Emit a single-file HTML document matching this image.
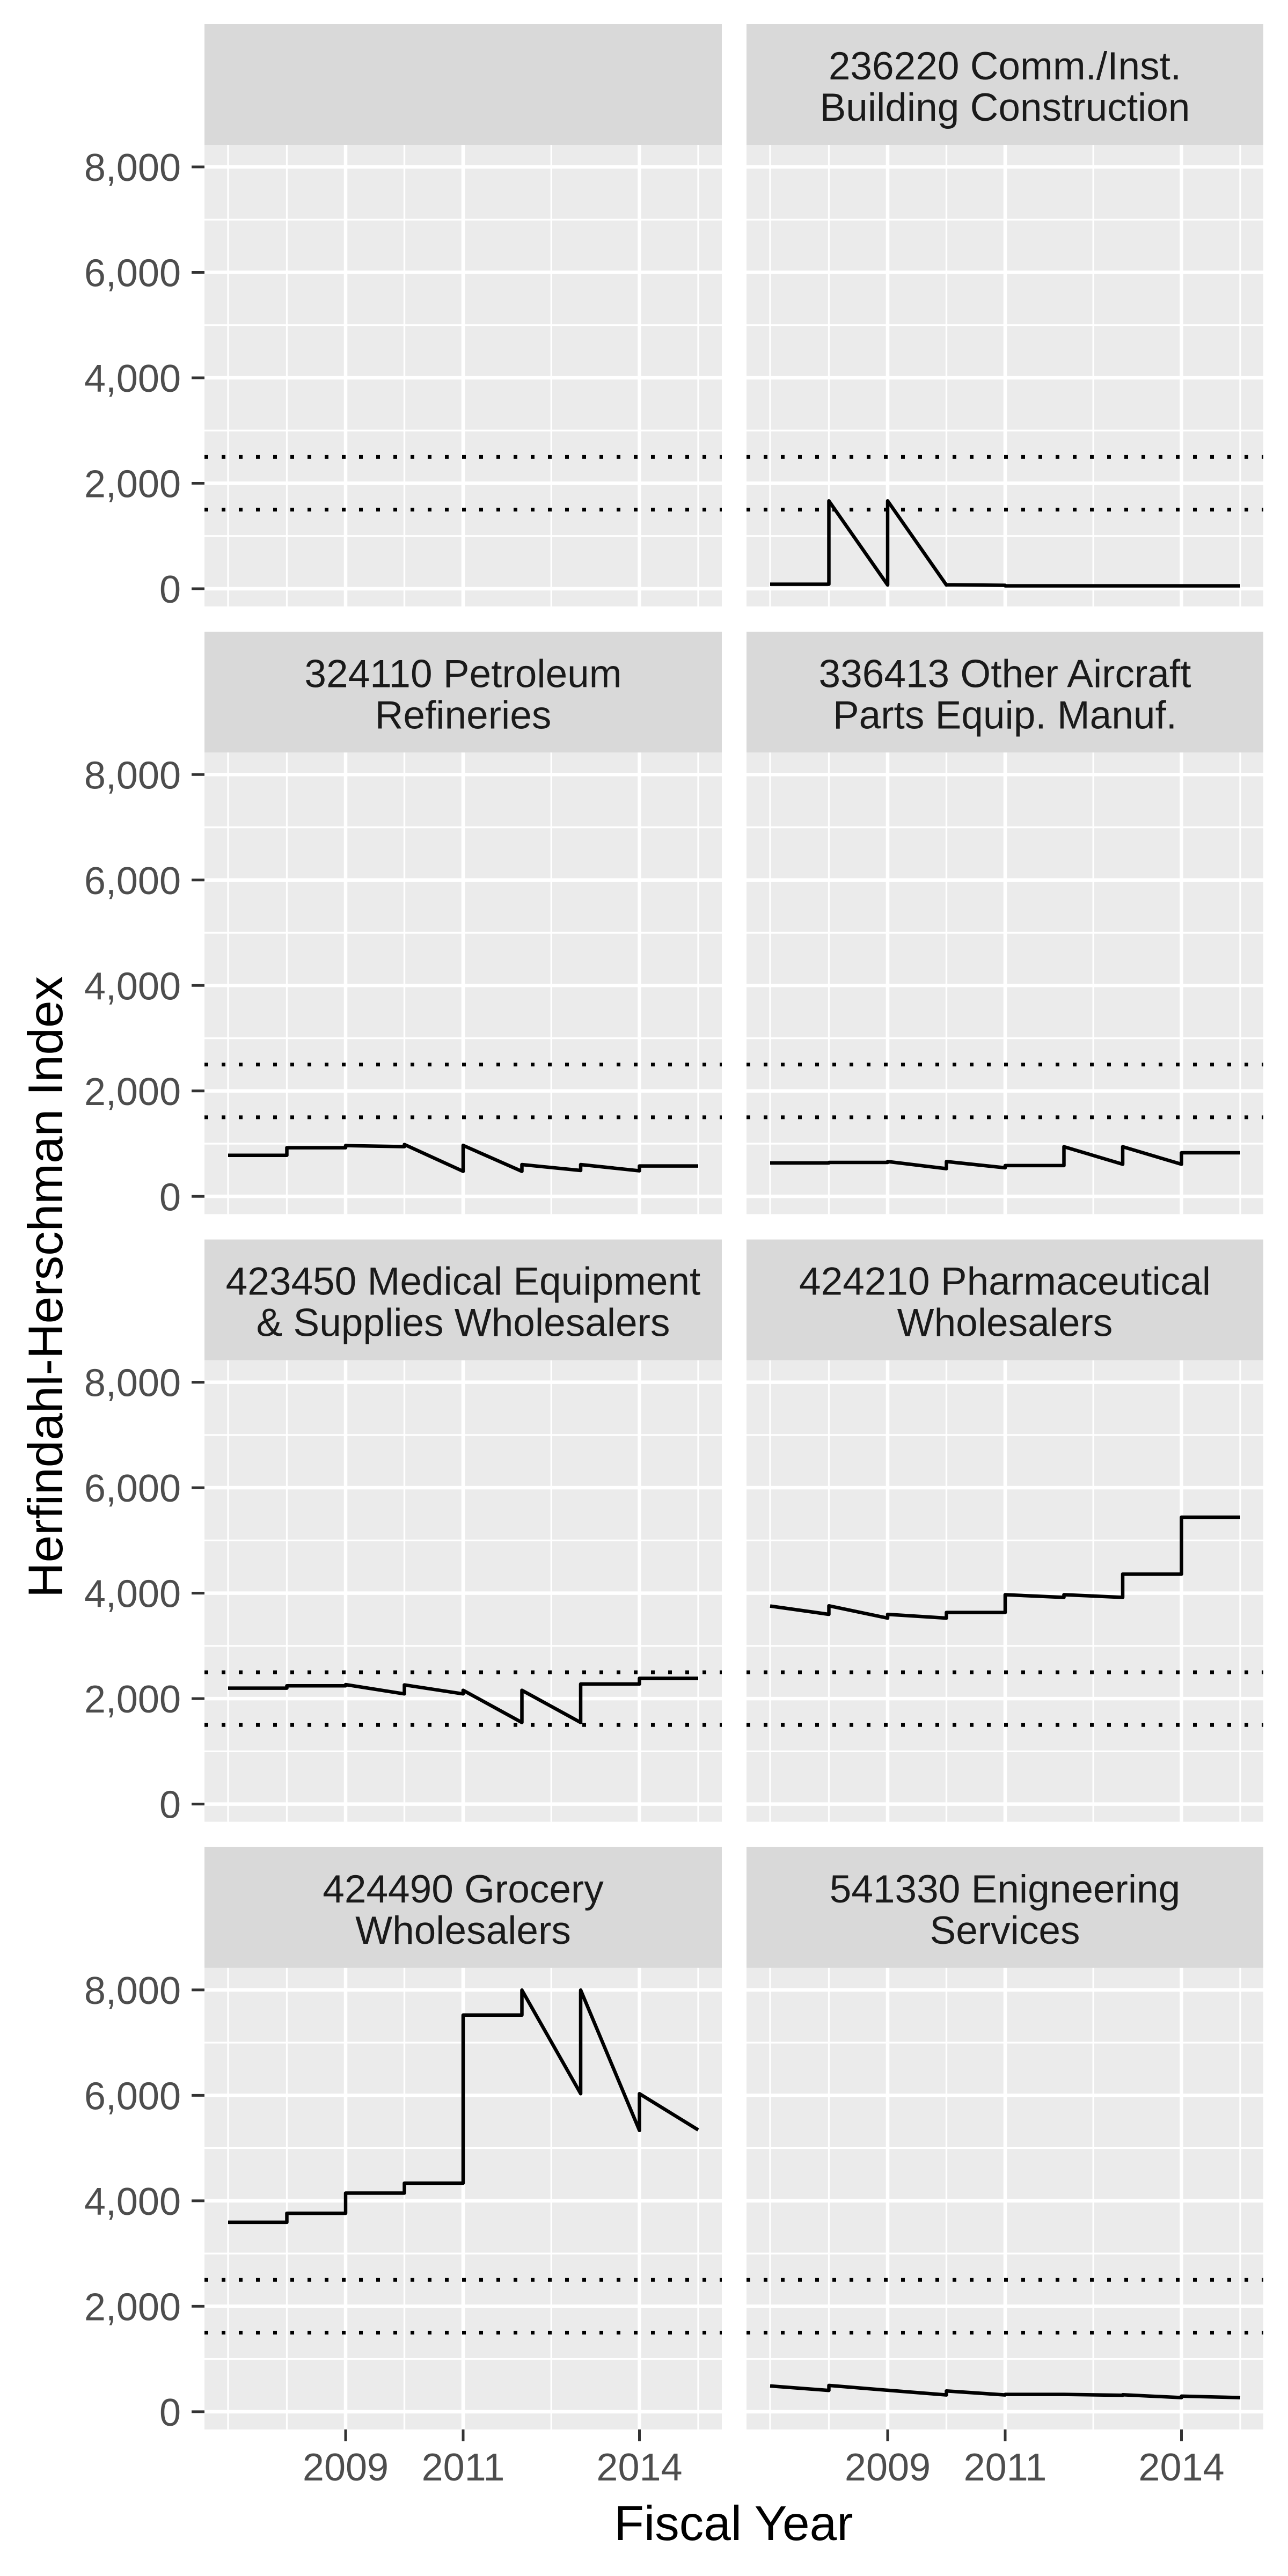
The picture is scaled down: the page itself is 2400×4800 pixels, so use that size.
<!DOCTYPE html>
<html><head><meta charset="utf-8">
<style>
html,body{margin:0;padding:0;background:#fff;}
svg{display:block;font-family:"Liberation Sans",Arial,sans-serif;}
</style></head>
<body>
<svg id="chart" width="2400" height="4800" viewBox="0 0 2400 4800" xmlns="http://www.w3.org/2000/svg">
<rect x="0" y="0" width="2400" height="4800" fill="#ffffff"/>
<g id="panels"></g>
<text x="1367" y="4733" font-size="91" text-anchor="middle" fill="#000">Fiscal Year</text>
<text x="116" y="2398" font-size="91" text-anchor="middle" fill="#000" transform="rotate(-90 116 2398)">Herfindahl-Herschman Index</text>
</svg>
<script>
// ---- data ----
const segYears = [2007, 2008, 2009, 2010, 2011, 2012, 2013, 2014];
const panelTitles = [
  ["", ""],
  ["236220 Comm./Inst.", "Building Construction"],
  ["324110 Petroleum", "Refineries"],
  ["336413 Other Aircraft", "Parts Equip. Manuf."],
  ["423450 Medical Equipment", "& Supplies Wholesalers"],
  ["424210 Pharmaceutical", "Wholesalers"],
  ["424490 Grocery", "Wholesalers"],
  ["541330 Enigneering", "Services"]
];
const startVals = [
  null,
  [85, 1666, 1666, 75, 55, 55, 55, 55],
  [780, 923, 964, 984, 967, 604, 604, 577],
  [634, 644, 661, 661, 584, 943, 943, 827],
  [2198, 2243, 2266, 2260, 2158, 2158, 2277, 2385],
  [3756, 3760, 3598, 3634, 3970, 3970, 4361, 5440],
  [3593, 3764, 4147, 4335, 7523, 7996, 7996, 6032],
  [489, 499, 407, 394, 329, 329, 322, 295]
];
const endVals = [
  null,
  [85, 70, 70, 65, 55, 55, 55, 55],
  [780, 923, 944, 475, 475, 492, 485, 577],
  [634, 644, 526, 543, 584, 610, 610, 827],
  [2198, 2243, 2090, 2090, 1547, 1547, 2277, 2385],
  [3598, 3527, 3527, 3634, 3920, 3920, 4361, 5440],
  [3593, 3764, 4147, 4335, 7523, 6032, 5334, 5345],
  [404, 407, 319, 319, 329, 312, 268, 268]
];
const thresholds = [1500, 2500];
const yTicks = [0, 2000, 4000, 6000, 8000];
const yTickLabels = ["0", "2,000", "4,000", "6,000", "8,000"];
const yMinor = [1000, 3000, 5000, 7000];
const xTicks = [2009, 2011, 2014];
const xTickLabels = ["2009", "2011", "2014"];
const xMinor = [2007, 2008, 2010, 2012.5, 2015];

// ---- layout ----
const NS = "http://www.w3.org/2000/svg";
const colLeft = [381, 1391];
const colWidth = [964, 963];
const rowPitch = 1132.3;
function zeroY(r){ return 1097 + r*rowPitch; }
function yScale(v, r){ return zeroY(r) - v*0.09825; }
function xScale(yr, c){ return colLeft[c] + 44 + (yr-2007)*109.5; }
function mk(tag, attrs, parent){
  const e = document.createElementNS(NS, tag);
  for (const k in attrs) e.setAttribute(k, attrs[k]);
  parent.appendChild(e);
  return e;
}
const root = document.getElementById("panels");

for (let p = 0; p < 8; p++){
  const r = Math.floor(p/2), c = p%2;
  const L = colLeft[c], W = colWidth[c];
  const stripTop = 45 + r*rowPitch;
  const plotTop = stripTop + 225;
  const plotBot = zeroY(r) + 33;
  const g = mk("g", {}, root);
  
  
  // strip
  const strip = mk("rect", {x:L, y:stripTop, width:W, height:225, fill:"#D9D9D9"}, g);
  
  
  for (let li = 0; li < 2; li++){
    if (!panelTitles[p][li]) continue;
    const t = mk("text", {x:L+W/2, y:stripTop + (li===0?103:180), "font-size":73, "text-anchor":"middle", fill:"#1A1A1A"}, g);
    t.textContent = panelTitles[p][li];
    
    
  }
  // plot background
  const bg = mk("rect", {x:L, y:plotTop, width:W, height:plotBot-plotTop, fill:"#EBEBEB"}, g);
  
  
  // grid
  yMinor.forEach(v => {
    const l = mk("line", {x1:L, x2:L+W, y1:yScale(v,r), y2:yScale(v,r), stroke:"#fff", "stroke-width":3.3}, g);
    
    
  });
  xMinor.forEach(v => {
    const l = mk("line", {x1:xScale(v,c), x2:xScale(v,c), y1:plotTop, y2:plotBot, stroke:"#fff", "stroke-width":3.3}, g);
    
    
  });
  yTicks.forEach(v => {
    const l = mk("line", {x1:L, x2:L+W, y1:yScale(v,r), y2:yScale(v,r), stroke:"#fff", "stroke-width":6.5}, g);
    
    
  });
  xTicks.forEach(v => {
    const l = mk("line", {x1:xScale(v,c), x2:xScale(v,c), y1:plotTop, y2:plotBot, stroke:"#fff", "stroke-width":6.5}, g);
    
    
  });
  // threshold lines
  thresholds.forEach(v => {
    const l = mk("line", {x1:L, x2:L+W, y1:yScale(v,r), y2:yScale(v,r), stroke:"#000", "stroke-width":7, "stroke-dasharray":"7 25"}, g);
    
    
  });
  // data series
  if (startVals[p]){
    let d = "";
    segYears.forEach((yr, i) => {
      const x0 = xScale(yr, c), x1 = xScale(yr+1, c);
      d += (i===0 ? "M" : "L") + x0.toFixed(1) + " " + yScale(startVals[p][i], r).toFixed(1);
      d += "L" + x1.toFixed(1) + " " + yScale(endVals[p][i], r).toFixed(1);
    });
    const path = mk("path", {d:d, fill:"none", stroke:"#000", "stroke-width":6.5, "stroke-linejoin":"round"}, g);
    
    
  }
  // y axis (left column only)
  if (c === 0){
    yTicks.forEach((v, i) => {
      const y = yScale(v, r);
      const tk = mk("line", {x1:357, x2:381, y1:y, y2:y, stroke:"#333333", "stroke-width":5}, g);
      
      
      const t = mk("text", {x:337, y:y+26, "font-size":72, "text-anchor":"end", fill:"#4D4D4D"}, g);
      t.textContent = yTickLabels[i];
      
      
    });
  }
  // x axis (bottom row only)
  if (r === 3){
    xTicks.forEach((v, i) => {
      const x = xScale(v, c);
      const tk = mk("line", {x1:x, x2:x, y1:plotBot, y2:plotBot+22, stroke:"#333333", "stroke-width":5}, g);
      
      
      const t = mk("text", {x:x, y:4622, "font-size":72, "text-anchor":"middle", fill:"#4D4D4D"}, g);
      t.textContent = xTickLabels[i];
      
      
    });
  }
}
</script>
</body></html>
